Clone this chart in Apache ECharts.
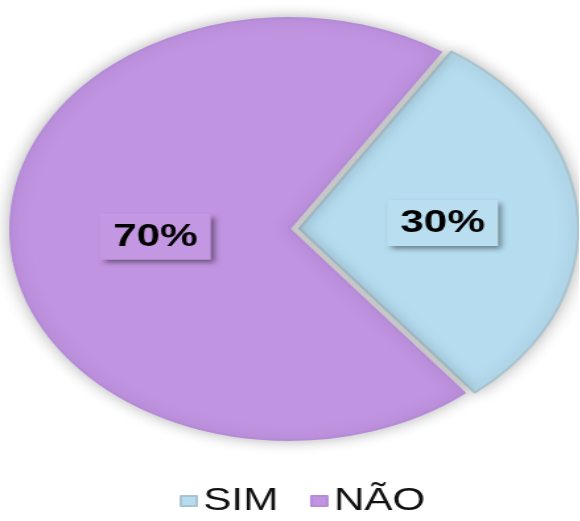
<!DOCTYPE html>
<html>
<head>
<meta charset="utf-8">
<script src="https://cdn.jsdelivr.net/npm/echarts@6/dist/echarts.min.js"></script>
<style>
  html, body { margin: 0; padding: 0; background: #fff; overflow: hidden; }
  #main { width: 439px; height: 521px; transform: scaleX(1.32); transform-origin: 0 0; }
</style>
</head>
<body>
<div id="main"></div>
<script>
// the original picture is stretched sideways, so the chart is drawn narrow and scaled
var categories = ['SIM', 'NÃO'];
var values = [30, 70];
var colors = ['#b5dcef', '#c194e2'];
var labelBg = ['#b8def0', '#c497e3'];
var labelShift = [[-2, 0], [7, 2]];

var chart = echarts.init(document.getElementById('main'));

var data = categories.map(function (name, i) {
  return {
    name: name,
    value: values[i],
    selected: i === 0,
    itemStyle: {
      color: colors[i],
      borderColor: i === 0 ? '#a9c3cf' : '#b58ad8',
      borderWidth: 2,
      shadowBlur: 14,
      shadowColor: 'rgba(0,0,0,0.28)'
    },
    label: {
      backgroundColor: labelBg[i],
      offset: labelShift[i],
      shadowColor: 'rgba(0,0,0,0.45)',
      shadowBlur: 5,
      shadowOffsetX: 3,
      shadowOffsetY: 3
    }
  };
});

chart.setOption({
  backgroundColor: '#fff',
  animation: false,
  legend: {
    data: categories,
    icon: 'rect',
    left: 131,
    top: 480,
    itemWidth: 12,
    itemHeight: 10,
    itemGap: 24,
    selectedMode: false,
    textStyle: { fontFamily: 'Liberation Sans', fontSize: 32, color: '#111' }
  },
  series: [{
    type: 'pie',
    center: [219, 229],
    radius: [0, 211],
    startAngle: 57,
    selectedMode: 'single',
    selectedOffset: 8,
    label: {
      show: true,
      position: 'inside',
      formatter: '{d}%',
      fontFamily: 'Liberation Sans',
      fontWeight: 'bold',
      fontSize: 32,
      color: '#000',
      padding: [8, 10, 6, 10]
    },
    labelLine: { show: false },
    emphasis: { disabled: true },
    data: data
  }]
});
</script>
</body>
</html>
